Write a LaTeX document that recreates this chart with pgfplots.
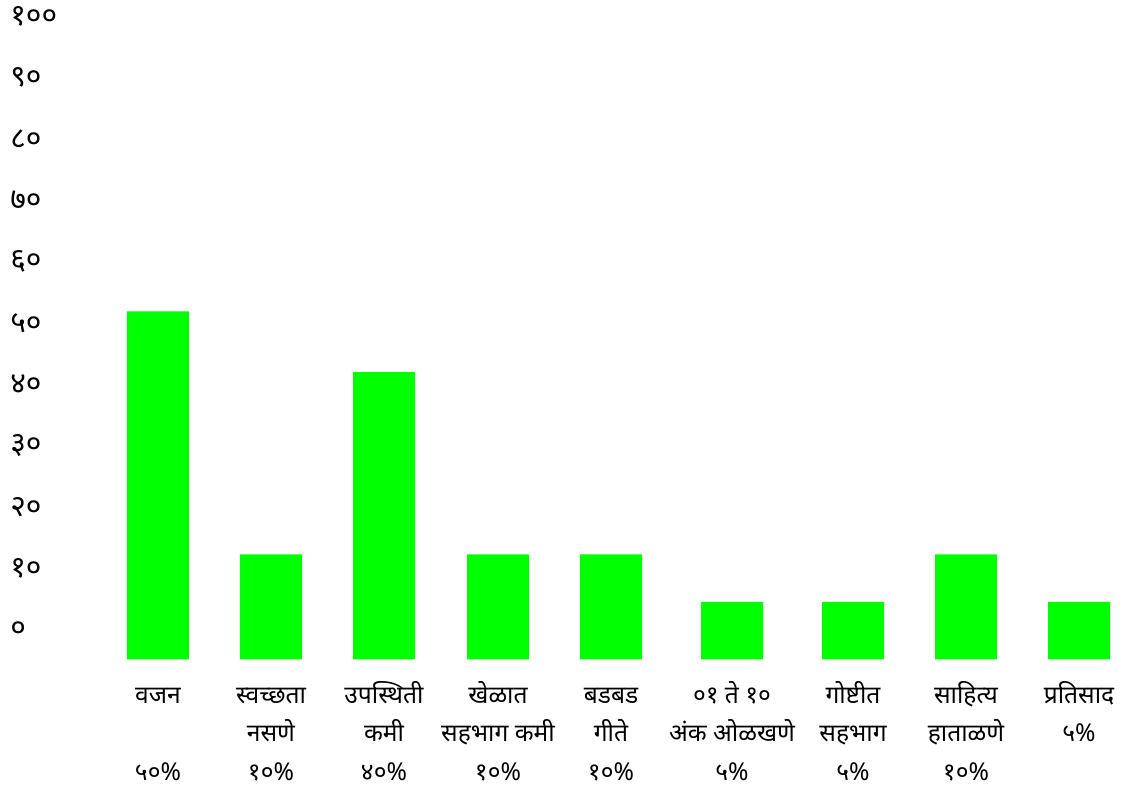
\documentclass[border=0pt]{standalone}
\usepackage{pgfplots}
\pgfplotsset{compat=1.18}
\usepackage{fontspec}
\newfontfamily\devfont[Script=Devanagari]{Noto Sans}
\definecolor{bargreen}{HTML}{00FF00}
% fixed line height, so that every label starts at the same baseline
\newcommand\ls{\rule[-6pt]{0pt}{19pt}}
\begin{document}
\begin{tikzpicture}
\begin{axis}[
    scale only axis,
    width=532.5pt, height=329.75pt,
    xmin=60, xmax=1125,
    ymin=0, ymax=107.4,
    ybar, bar width=62,
    axis line style={draw=none},
    tick style={draw=none},
    major tick length=0pt,
    xtick=data,
    xticklabels={
        {\ls वजन\\\ls\\\ls ५०\%},
        {\ls स्वच्छता\\\ls नसणे\\\ls १०\%},
        {\ls उपस्थिती\\\ls कमी\\\ls ४०\%},
        {\ls खेळात\\\ls सहभाग कमी\\\ls १०\%},
        {\ls बडबड\\\ls गीते\\\ls १०\%},
        {\ls ०१ ते १०\\\ls अंक ओळखणे\\\ls ५\%},
        {\ls गोष्टीत\\\ls सहभाग\\\ls ५\%},
        {\ls साहित्य\\\ls हाताळणे\\\ls १०\%},
        {\ls प्रतिसाद\\\ls ५\%}},
    xticklabel style={align=center, anchor=north, inner sep=0pt, yshift=-8.75pt,
        font=\devfont\fontsize{12.3}{19.25}\selectfont},
    % the labels sit a little above the bars' foot, as in the source
    ytick={4.8,14.8,...,104.8},
    yticklabels={०,१०,२०,३०,४०,५०,६०,७०,८०,९०,१००},
    yticklabel style={anchor=west, inner sep=0pt, xshift=-25pt,
        font=\devfont\fontsize{15}{18}\selectfont},
]
\addplot[fill=bargreen, draw=none] coordinates {
    (158,56.7) (271,17.1) (384,46.8) (498,17.1) (611,17.1)
    (732,9.4) (853,9.4) (966,17.1) (1079,9.4)};
\coordinate (bl) at (rel axis cs:0,0);
\coordinate (tr) at (rel axis cs:1,1);
\end{axis}
\pgfresetboundingbox
\path ([xshift=-30pt,yshift=-67.75pt]bl) rectangle (tr);
\end{tikzpicture}
\end{document}
